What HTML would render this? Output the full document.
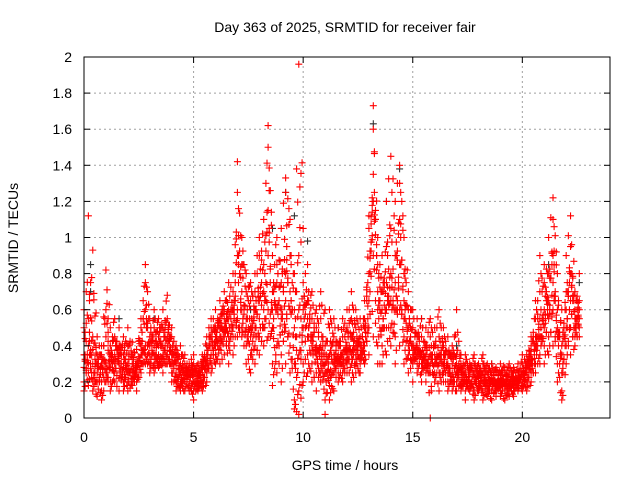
<!DOCTYPE html>
<html><head><meta charset="utf-8"><style>
body{margin:0;background:#fff}
svg{display:block;font-family:"Liberation Sans",sans-serif}
</style></head><body>
<svg id="chart" width="640" height="480">
<text x="345" y="32" font-size="14" text-anchor="middle">Day 363 of 2025, SRMTID for receiver fair</text>
<g id="grid"></g>
<g id="marks"></g>
<rect x="84" y="57" width="526" height="361" fill="none" stroke="#000" stroke-width="1"/>
<g id="axes"></g>
<text x="345" y="470" font-size="14" text-anchor="middle">GPS time / hours</text>
<text transform="translate(18,238) rotate(-90)" font-size="14" text-anchor="middle">SRMTID / TECUs</text>
</svg>
<script>
const xTicks=[0,5,10,15,20];
const yTicks=[0,0.2,0.4,0.6,0.8,1,1.2,1.4,1.6,1.8,2];
const yLabels=["0","0.2","0.4","0.6","0.8","1","1.2","1.4","1.6","1.8","2"];
// rows: [hour, values...]
const redRows=[
[0.0,0.2,0.35,0.5,0.6,0.15,0.28],[0.2,0.25,0.4,1.12,0.3,0.18,0.55],[0.4,0.3,0.93,0.2,0.45,0.15,0.38],[0.6,0.12,0.25,0.45,0.35,0.2,0.3],
[0.8,0.1,0.2,0.4,0.3,0.15,0.35],[1.0,0.82,0.3,0.45,0.2,0.6,0.25],[1.2,0.2,0.35,0.5,0.28,0.15,0.4],[1.4,0.25,0.45,0.3,0.2,0.55,0.35],
[1.6,0.15,0.3,0.4,0.22,0.35,0.5],[1.8,0.2,0.35,0.28,0.45,0.15,0.3],[2.0,0.2,0.4,0.3,0.25,0.5,0.15],[2.2,0.25,0.35,0.18,0.3,0.42,0.2],
[2.4,0.2,0.3,0.25,0.15,0.38,0.28],[2.6,0.3,0.5,0.4,0.25,0.55,0.35],[2.8,0.85,0.75,0.4,0.3,0.6,0.35],[3.0,0.3,0.45,0.35,0.55,0.25,0.4],
[3.2,0.3,0.5,0.4,0.6,0.25,0.35],[3.4,0.35,0.45,0.3,0.55,0.28,0.4],[3.6,0.3,0.4,0.6,0.25,0.35,0.5],[3.8,0.35,0.55,0.3,0.45,0.68,0.4],
[4.0,0.2,0.35,0.5,0.25,0.3,0.45],[4.2,0.15,0.3,0.25,0.4,0.2,0.35],[4.4,0.15,0.25,0.3,0.2,0.4,0.18],[4.6,0.2,0.3,0.15,0.25,0.35,0.22],
[4.8,0.15,0.25,0.3,0.2,0.18,0.28],[5.0,0.1,0.2,0.3,0.15,0.25,0.35],[5.2,0.15,0.25,0.2,0.3,0.18,0.22],[5.4,0.2,0.3,0.25,0.35,0.15,0.28],
[5.6,0.2,0.3,0.4,0.25,0.35,0.45],[5.8,0.3,0.45,0.55,0.35,0.25,0.5],[6.0,0.35,0.5,0.6,0.4,0.3,0.45],[6.2,0.4,0.55,0.65,0.3,0.5,0.45],
[6.4,0.35,0.5,0.7,0.45,0.6,0.55],[6.6,0.4,0.55,0.75,0.45,0.6,0.3],[6.8,0.45,0.6,0.8,0.5,0.35,0.7],[7.0,1.42,1.25,0.6,0.45,0.9,0.55],
[7.2,0.5,0.7,0.45,0.85,0.6,1.0],[7.4,0.4,0.55,0.7,0.3,0.5,0.8],[7.6,0.35,0.5,0.65,0.45,0.75,0.25],[7.8,0.4,0.6,0.8,0.3,0.5,0.7],
[8.0,0.45,0.65,0.9,0.35,0.55,1.0],[8.2,0.5,0.7,0.85,0.4,1.1,0.6],[8.4,1.62,1.5,0.9,0.6,1.15,0.45],[8.6,0.3,0.5,0.7,0.9,0.18,0.6],
[8.8,0.4,0.6,0.85,0.25,0.75,1.0],[9.0,0.35,0.55,0.75,1.05,0.2,0.6],[9.2,1.33,1.25,0.8,0.5,0.3,0.65],[9.4,0.4,0.6,0.9,1.1,0.25,0.7],
[9.6,0.1,0.3,0.5,0.8,0.05,0.6],[9.8,1.96,0.02,0.15,0.35,0.6,0.9],[10.0,0.3,0.5,1.05,0.75,0.2,0.6],[10.2,0.25,0.45,0.65,0.85,0.35,0.55],
[10.4,0.2,0.4,0.55,0.3,0.7,0.45],[10.6,0.15,0.35,0.5,0.25,0.6,0.4],[10.8,0.2,0.3,0.55,0.4,0.7,0.25],[11.0,0.02,0.1,0.25,0.4,0.6,0.3],
[11.2,0.1,0.25,0.35,0.5,0.18,0.6],[11.4,0.15,0.3,0.45,0.25,0.55,0.35],[11.6,0.2,0.3,0.4,0.5,0.25,0.35],[11.8,0.2,0.35,0.45,0.3,0.55,0.25],
[12.0,0.25,0.35,0.5,0.3,0.4,0.6],[12.2,0.2,0.35,0.45,0.55,0.3,0.7],[12.4,0.3,0.4,0.5,0.25,0.6,0.35],[12.6,0.3,0.45,0.35,0.55,0.4,0.25],
[12.8,0.35,0.5,0.65,0.4,0.3,0.55],[13.0,1.05,1.12,0.8,0.5,0.35,0.65],[13.2,1.73,1.6,1.2,0.9,0.45,1.35],[13.4,0.4,0.6,0.85,0.3,0.7,1.0],
[13.6,0.3,0.5,0.7,0.9,0.4,0.6],[13.8,0.35,0.6,0.95,1.2,0.5,0.75],[14.0,1.45,0.8,0.5,0.65,1.05,0.4],[14.2,0.3,0.6,0.9,1.2,0.45,0.75],
[14.4,1.4,1.3,1.1,0.85,0.6,0.4],[14.6,0.3,0.55,0.8,1.0,0.45,0.65],[14.8,0.25,0.4,0.6,0.35,0.5,0.7],[15.0,0.2,0.35,0.5,0.4,0.6,0.3],
[15.2,0.25,0.35,0.45,0.55,0.3,0.4],[15.4,0.2,0.3,0.45,0.35,0.55,0.25],[15.6,0.2,0.3,0.4,0.5,0.35,0.25],[15.8,0.0,0.25,0.35,0.45,0.3,0.55],
[16.0,0.2,0.3,0.4,0.5,0.25,0.35],[16.2,0.15,0.25,0.35,0.45,0.3,0.6],[16.4,0.2,0.3,0.4,0.25,0.5,0.35],[16.6,0.15,0.25,0.35,0.3,0.2,0.45],
[16.8,0.2,0.3,0.25,0.4,0.15,0.35],[17.0,0.15,0.25,0.35,0.2,0.6,0.3],[17.2,0.15,0.25,0.2,0.3,0.35,0.18],[17.4,0.1,0.2,0.3,0.25,0.35,0.15],
[17.6,0.15,0.25,0.2,0.3,0.18,0.28],[17.8,0.1,0.2,0.3,0.25,0.15,0.35],[18.0,0.15,0.25,0.2,0.3,0.18,0.22],[18.2,0.15,0.2,0.3,0.25,0.1,0.35],
[18.4,0.15,0.25,0.2,0.3,0.12,0.18],[18.6,0.1,0.2,0.25,0.15,0.3,0.22],[18.8,0.12,0.2,0.25,0.18,0.28,0.15],[19.0,0.15,0.2,0.25,0.3,0.12,0.22],
[19.2,0.1,0.18,0.25,0.2,0.15,0.28],[19.4,0.12,0.2,0.25,0.15,0.3,0.18],[19.6,0.15,0.22,0.28,0.18,0.25,0.12],[19.8,0.15,0.2,0.25,0.3,0.18,0.22],
[20.0,0.15,0.25,0.2,0.3,0.35,0.18],[20.2,0.2,0.3,0.25,0.35,0.15,0.28],[20.4,0.2,0.3,0.4,0.25,0.45,0.35],[20.6,0.25,0.4,0.55,0.3,0.65,0.45],
[20.8,0.3,0.45,0.7,0.55,0.9,0.35],[21.0,0.3,0.5,0.75,0.6,0.4,0.85],[21.2,0.35,0.55,0.8,1.0,0.45,0.65],[21.4,1.22,1.1,0.9,0.6,0.4,0.75],
[21.6,0.3,0.45,0.6,0.8,0.2,0.5],[21.8,0.1,0.25,0.4,0.6,0.15,0.35],[22.0,0.3,0.5,0.7,0.9,0.4,0.6],[22.2,1.12,0.95,0.8,0.5,0.35,0.65],
[22.4,0.4,0.55,0.7,0.45,0.6,0.5],[22.6,0.45,0.6,0.8,0.5,0.55,0.65]
];
const darkRows=[
[0.3,0.85,0.7],[1.6,0.55],[3.2,0.55],[5.6,0.4],[7.6,0.6],[8.6,1.05],[9.2,1.25],[9.6,1.12],[10.2,0.98],
[11.6,0.5],[13.2,1.63],[13.8,1.2],[14.4,1.38],[15.4,0.55],[17.0,0.4],[18.6,0.3],[21.2,0.85],[22.6,0.75]
];
const X0=84,X1=610,Y0=418,Y1=57,XMAX=24,YMAX=2;
const xs=v=>X0+(X1-X0)*v/XMAX;
const ys=v=>Y0-(Y0-Y1)*v/YMAX;
const NS="http://www.w3.org/2000/svg";
const grid=document.getElementById('grid'),axes=document.getElementById('axes'),marks=document.getElementById('marks');
function mk(tag,attrs,parent){const e=document.createElementNS(NS,tag);for(const k in attrs)e.setAttribute(k,attrs[k]);parent.appendChild(e);return e;}
yTicks.forEach((t,i)=>{
  const y=ys(t);
  if(t>0&&t<YMAX){const g=mk('line',{x1:X0,x2:X1,y1:y,y2:y,stroke:'#a0a0a0','stroke-dasharray':'2,3'},grid);
  
  }
  mk('line',{x1:X0,x2:X0+6,y1:y,y2:y,stroke:'#000'},axes);
  mk('line',{x1:X1,x2:X1-6,y1:y,y2:y,stroke:'#000'},axes);
  const tx=mk('text',{x:X0-12,y:y+5,'font-size':14,'text-anchor':'end'},axes);
  tx.textContent=yLabels[i];
  
  
});
xTicks.forEach(t=>{
  const x=xs(t);
  if(t>0){const g=mk('line',{x1:x,x2:x,y1:Y0,y2:Y1,stroke:'#a0a0a0','stroke-dasharray':'2,3'},grid);
  
  }
  mk('line',{x1:x,x2:x,y1:Y0,y2:Y0-6,stroke:'#000'},axes);
  mk('line',{x1:x,x2:x,y1:Y1,y2:Y1+6,stroke:'#000'},axes);
  const tx=mk('text',{x:x,y:Y0+24,'font-size':14,'text-anchor':'middle'},axes);
  tx.textContent=String(t);
  
  
});
function plus(t,v,color,name){
  const x=xs(t),y=ys(v);
  const p=mk('path',{d:`M${x-3.5},${y}h7M${x},${y-3.5}v7`,stroke:color,'stroke-width':1.1,fill:'none'},marks);
  
  
}
darkRows.forEach(r=>{for(let j=1;j<r.length;j++) plus(r[0],r[j],'#333','dark-point');});
redRows.forEach((r,ri)=>{
  const n=redRows[ri+1];
  const m=r.length-1;
  for(let j=1;j<r.length;j++){
    plus(r[0],r[j],'#ff0000','red-point');
    if(n){
      const a=n[((j+2)%m)+1], b=r[((j+3)%m)+1];
      plus(r[0]+0.1,(a+r[j])/2,'#ff0000','red-point');
      plus(r[0]+0.05,(b+r[j])/2,'#ff0000','red-point');
      plus(r[0]+0.15,(n[j]*0.6+b*0.4),'#ff0000','red-point');
    }
  }
});
</script>
</body></html>
